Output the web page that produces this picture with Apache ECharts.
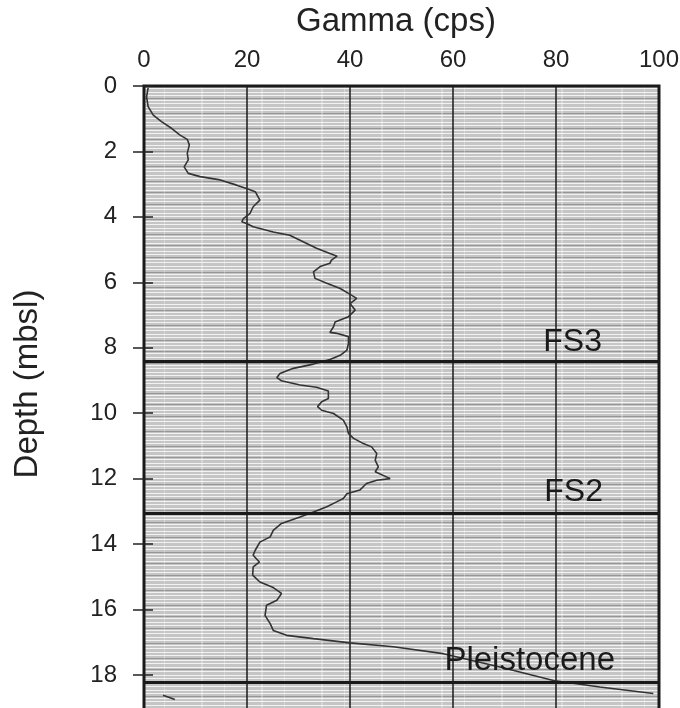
<!DOCTYPE html>
<html>
<head>
<meta charset="UTF-8">
<title>Gamma log</title>
<script src="https://cdn.jsdelivr.net/npm/echarts@6/dist/echarts.min.js"></script>
<style>
  html, body { margin: 0; padding: 0; background: #fff; }
  #main { width: 680px; height: 708px; }
</style>
</head>
<body>
<div id="main"></div>
<script type="text/javascript">
    // gamma log, depth in mbsl
    var depth = [0.06, 0.33, 0.63, 0.89, 1.09, 1.3, 1.5, 1.63, 1.8, 2.06, 2.26, 2.47, 2.67, 2.77, 2.87,
        3.03, 3.13, 3.23, 3.49, 3.69, 3.89, 4.05, 4.15, 4.2, 4.3, 4.46, 4.56, 4.76, 4.96, 5.12,
        5.2, 5.32, 5.42, 5.52, 5.68, 5.88, 6.03, 6.19, 6.34, 6.49, 6.65, 6.85, 7.05, 7.21, 7.36,
        7.53, 7.56, 7.66, 7.87, 8.07, 8.23, 8.36, 8.5, 8.63, 8.79, 8.91, 9.01, 9.14, 9.21, 9.32,
        9.55, 9.65, 9.8, 9.91, 10.01, 10.21, 10.42, 10.62, 10.77, 10.93, 11.03, 11.23, 11.44, 11.64, 11.79,
        12.0, 12.05, 12.15, 12.35, 12.46, 12.61, 12.71, 12.86, 13.02, 13.17, 13.37, 13.58, 13.78, 13.94, 14.19,
        14.34, 14.55, 14.7, 14.95, 15.16, 15.33, 15.51, 15.72, 15.87, 16.18, 16.43, 16.64, 16.79, 16.89, 17.02,
        17.14, 17.35, 17.76, 18.17, 18.37, 18.57];
    var gamma = [0.8, 0.5, 0.8, 1.8, 3.4, 5.4, 7.0, 8.4, 8.8, 8.4, 8.6, 7.8, 8.6, 10.9, 14.8,
        18.0, 19.9, 21.6, 22.5, 21.2, 20.6, 19.3, 19.0, 19.9, 21.2, 25.1, 28.3, 30.9, 33.5, 36.1,
        37.5, 36.4, 36.1, 34.2, 32.9, 33.2, 35.5, 38.1, 39.7, 41.3, 40.0, 41.0, 39.7, 37.1, 36.8,
        36.1, 37.4, 39.7, 39.7, 39.4, 38.1, 36.1, 32.9, 29.0, 26.4, 25.8, 26.7, 30.3, 33.5, 35.8,
        35.8, 34.5, 33.7, 34.5, 36.8, 38.7, 39.4, 39.7, 40.7, 42.6, 44.2, 45.2, 44.9, 45.5, 44.9,
        47.8, 45.2, 43.2, 41.9, 39.4, 38.7, 37.4, 35.5, 32.9, 30.3, 26.7, 25.1, 24.5, 22.5, 21.6,
        21.2, 22.4, 21.2, 21.1, 22.5, 25.1, 26.7, 25.8, 23.8, 23.5, 24.5, 25.1, 27.7, 32.9, 40.0,
        48.4, 58.1, 69.1, 79.5, 88.5, 98.9];

    // short second trace at the bottom left
    var stubDepth = [18.62, 18.75];
    var stubGamma = [3.7, 6.0];

    // picked surfaces
    var surfaceNames = ['FS3', 'FS2', 'Pleistocene'];
    var surfaceDepths = [8.41, 13.06, 18.23];
    var surfaceLabelShift = [[57, 3], [56, 5], [44, 5]];

    var fontName = "'Liberation Sans', Arial, sans-serif";

    function pairUp(xs, ys) {
        var out = [];
        for (var i = 0; i < xs.length; i++) out.push([xs[i], ys[i]]);
        return out;
    }

    // scanned paper texture for the plot area
    function makeTexture() {
        var c = document.createElement('canvas');
        c.width = 60;
        c.height = 53;
        var g = c.getContext('2d');
        g.fillStyle = '#c5c5c5';
        g.fillRect(0, 0, 60, 53);
        var light = [1, 4, 9, 12, 16, 19, 24, 27, 31, 35, 39, 42, 47, 50];
        var dark = [7, 22, 33, 45];
        g.fillStyle = '#f2f2f2';
        light.forEach(function (r) { g.fillRect(0, r, 60, 1); });
        g.fillStyle = '#969696';
        dark.forEach(function (r) { g.fillRect(0, r, 60, 1); });
        g.fillStyle = 'rgba(255,255,255,0.3)';
        g.fillRect(21, 0, 2, 53);
        g.fillRect(44, 0, 1, 53);
        return c;
    }

    var myChart = echarts.init(document.getElementById('main'));

    var markData = [];
    for (var i = 0; i < surfaceNames.length; i++) {
        markData.push({
            yAxis: surfaceDepths[i],
            label: {
                show: true,
                formatter: surfaceNames[i],
                position: 'insideEndTop',
                distance: surfaceLabelShift[i],
                color: '#1a1a1a',
                fontSize: i == 2 ? 33 : 32,
                fontFamily: fontName
            }
        });
    }

    var option = {
        backgroundColor: '#ffffff',
        animation: false,
        grid: {
            left: 144,
            width: 515,
            top: 86,
            height: 638,
            outerBoundsMode: 'none',
            containLabel: false,
            show: true,
            backgroundColor: { image: makeTexture(), repeat: 'repeat' },
            borderColor: '#1a1a1a',
            borderWidth: 3
        },
        xAxis: {
            type: 'value',
            position: 'top',
            min: 0,
            max: 100,
            interval: 20,
            axisLine: { show: false },
            axisTick: { show: false },
            axisLabel: { fontSize: 24, color: '#222', margin: 14, fontFamily: fontName },
            splitLine: { show: true, lineStyle: { color: '#1a1a1a', width: 1.5 } }
        },
        yAxis: [{
            type: 'value',
            position: 'left',
            inverse: true,
            min: 0,
            max: 19.5,
            interval: 2,
            axisLine: { show: false },
            axisTick: { show: true, length: 11, lineStyle: { color: '#222', width: 1.5 } },
            axisLabel: { fontSize: 24, color: '#222', margin: 27, fontFamily: fontName, showMaxLabel: false },
            splitLine: { show: false }
        }, {
            type: 'value',
            position: 'left',
            inverse: true,
            min: 0,
            max: 19.5,
            interval: 2,
            axisLine: { show: false },
            axisTick: { show: true, inside: true, length: 9, lineStyle: { color: '#222', width: 1.5 } },
            axisLabel: { show: false },
            splitLine: { show: false }
        }],
        graphic: [{
            type: 'text',
            x: 396,
            y: 22,
            style: {
                text: 'Gamma (cps)',
                fontSize: 33,
                fontFamily: fontName,
                fill: '#222',
                align: 'center',
                verticalAlign: 'middle'
            }
        }, {
            type: 'text',
            x: 28,
            y: 384,
            rotation: Math.PI / 2,
            style: {
                text: 'Depth (mbsl)',
                fontSize: 33,
                fontFamily: fontName,
                fill: '#222',
                align: 'center',
                verticalAlign: 'middle'
            }
        }],
        series: [{
            type: 'line',
            data: pairUp(gamma, depth),
            showSymbol: false,
            symbol: 'none',
            lineStyle: { color: '#333333', width: 1.6 },
            markLine: {
                silent: true,
                symbol: ['none', 'none'],
                lineStyle: { color: '#1a1a1a', width: 3, type: 'solid' },
                data: markData
            }
        }, {
            type: 'line',
            data: pairUp(stubGamma, stubDepth),
            showSymbol: false,
            symbol: 'none',
            lineStyle: { color: '#333333', width: 1.6 }
        }]
    };

    myChart.setOption(option);
</script>
</body>
</html>
